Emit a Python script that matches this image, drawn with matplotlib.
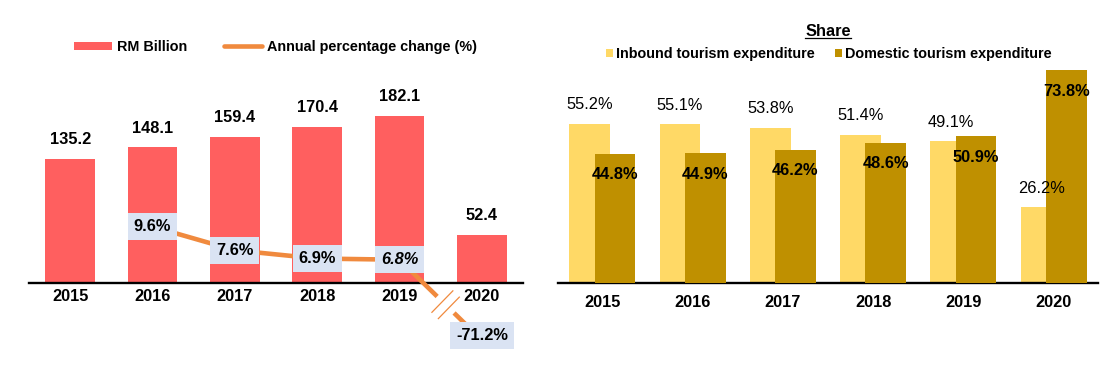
import numpy as np
import matplotlib
matplotlib.use('Agg')
import matplotlib.pyplot as plt
from matplotlib import font_manager
from matplotlib.lines import Line2D
from matplotlib.patches import Patch
from matplotlib.transforms import IdentityTransform

# ---------------- data ----------------
years = ['2015', '2016', '2017', '2018', '2019', '2020']
rm_billion = [135.2, 148.1, 159.4, 170.4, 182.1, 52.4]
pct_years = ['2016', '2017', '2018', '2019', '2020']
pct_change = [9.6, 7.6, 6.9, 6.8, -71.2]
pct_axis_floor = 0.0   # broken axis: values below this are drawn at this level
inbound_share = [55.2, 55.1, 53.8, 51.4, 49.1, 26.2]
domestic_share = [44.8, 44.9, 46.2, 48.6, 50.9, 73.8]

# ---------------- style ----------------
names = {f.name for f in font_manager.fontManager.ttflist}
narrow = 'Liberation Sans Narrow' in names
FONT = 'Liberation Sans Narrow' if narrow else 'Liberation Sans'
plt.rcParams['font.family'] = [FONT, 'DejaVu Sans']
FS = 13 if narrow else 11.8
LFS = 12 if narrow else 10.4

RED = '#FF5F5F'
ORANGE = '#F08A3E'
BOX = '#DAE3F3'
YELLOW = '#FFD966'
BROWN = '#BF9000'

W, H = 1114, 371
fig = plt.figure(figsize=(W / 100, H / 100), dpi=100)


def rect(x0, x1, ytop, ybot):
    return [x0 / W, (H - ybot) / H, (x1 - x0) / W, (ybot - ytop) / H]


# ---------------- left chart ----------------
ax1 = fig.add_axes(rect(29, 523, 60, 283))
x = np.arange(len(years))
ax1.bar(x, rm_billion, width=0.6, color=RED, zorder=2)
ax1.set_xlim(-0.5, len(years) - 0.5)
ax1.set_ylim(0, 243)
for xi, v in zip(x, rm_billion):
    ax1.annotate(f'{v:.1f}', (xi, v), xytext=(0, 13.7), textcoords='offset points',
                 ha='center', va='center', fontsize=FS, fontweight='bold')
ax1.set_xticks(x)
ax1.set_xticklabels(years, fontsize=FS, fontweight='bold')
ax1.tick_params(axis='x', length=0, pad=4)
ax1.set_yticks([])
for s in ['left', 'right', 'top']:
    ax1.spines[s].set_visible(False)
ax1.spines['bottom'].set_linewidth(1.7)

ax2 = ax1.twinx()
ax2.set_ylim(4.83, 23.7)
for s in ['left', 'right', 'top', 'bottom']:
    ax2.spines[s].set_visible(False)
ax2.set_yticks([])
px = np.array([years.index(y) for y in pct_years])
pdisp = np.maximum(np.array(pct_change), pct_axis_floor)
ax2.plot(px, pdisp, color=ORANGE, lw=3.3, clip_on=False, zorder=3,
         solid_capstyle='round')
for xi, yd, v, yr in zip(px, pdisp, pct_change, pct_years):
    dy = 3.5 if v < pct_axis_floor else 0
    ax2.annotate(f'{v:.1f}%', (xi, yd), xytext=(0, dy), textcoords='offset points',
                 ha='center', va='center', fontsize=FS, fontweight='bold',
                 style='italic' if yr == '2019' else 'normal',
                 bbox=dict(boxstyle='square,pad=0.36', fc=BOX, ec='none'), zorder=5,
                 annotation_clip=False)

ax1.legend(handles=[Patch(fc=RED, ec='none'),
                    Line2D([], [], color=ORANGE, lw=3.3, solid_capstyle='round')],
           labels=['RM Billion', 'Annual percentage change (%)'],
           loc='center', bbox_to_anchor=(0.499, (283 - 47) / 223), ncol=2,
           frameon=False, handlelength=2.6, handleheight=0.55,
           handletextpad=0.35, columnspacing=2.6,
           prop=dict(weight='bold', size=LFS))

# break marks on the line between 2019 and 2020
p4 = ax2.transData.transform((px[-2], pdisp[-2]))
p5 = ax2.transData.transform((px[-1], pdisp[-1]))
u = (p5 - p4) / np.hypot(*(p5 - p4))
nrm = np.array([-u[1], u[0]])
c = p4 + 0.56 * (p5 - p4)
g0, g1 = c - 8 * u, c + 8 * u
fig.add_artist(Line2D([g0[0], g1[0]], [g0[1], g1[1]], color='white', lw=5.5,
                      transform=IdentityTransform(), zorder=6))
for s in (-4.5, 4.5):
    m = c + s * u
    a, b = m - 15 * nrm, m + 15 * nrm
    fig.add_artist(Line2D([a[0], b[0]], [a[1], b[1]], color=ORANGE, lw=0.9,
                          transform=IdentityTransform(), zorder=7))

# ---------------- right chart ----------------
ax3 = fig.add_axes(rect(558, 1098, 60, 283))
ax3.bar(x - 0.14, inbound_share, width=0.45, color=YELLOW, zorder=2,
        label='Inbound tourism expenditure')
ax3.bar(x + 0.14, domestic_share, width=0.45, color=BROWN, zorder=3,
        label='Domestic tourism expenditure')
ax3.set_xlim(-0.49, len(years) - 0.51)
ax3.set_ylim(0, 77.3)
for xi, v in zip(x, inbound_share):
    ax3.annotate(f'{v:.1f}%', (xi - 0.14, v), xytext=(0, 13.7), textcoords='offset points',
                 ha='center', va='center', fontsize=FS, zorder=5)
for xi, v in zip(x, domestic_share):
    ax3.annotate(f'{v:.1f}%', (xi + 0.14, v), xytext=(0, -15.1), textcoords='offset points',
                 ha='center', va='center', fontsize=FS, fontweight='bold', zorder=5)
ax3.set_xticks(x)
ax3.set_xticklabels(years, fontsize=FS, fontweight='bold')
ax3.tick_params(axis='x', length=0, pad=8.4)
ax3.set_yticks([])
for s in ['left', 'right', 'top']:
    ax3.spines[s].set_visible(False)
ax3.spines['bottom'].set_linewidth(1.7)
ax3.legend(loc='center', bbox_to_anchor=((829 - 558) / 540, (283 - 54) / 223), ncol=2,
           frameon=False, handlelength=0.5, handleheight=0.45, handletextpad=0.2,
           columnspacing=1.4, prop=dict(weight='bold', size=LFS))

t = fig.text(828 / W, (H - 36) / H, 'Share', ha='center', va='baseline',
             fontsize=FS, fontweight='bold')
fig.canvas.draw()
bb = t.get_window_extent()
fig.add_artist(Line2D([bb.x0, bb.x1], [H - 38, H - 38], color='black', lw=0.9,
                      transform=IdentityTransform()))

fig.savefig('out.png', dpi=100)
